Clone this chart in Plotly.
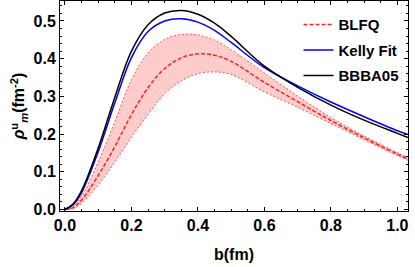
import plotly.graph_objects as go

b = [0.0, 0.025, 0.05, 0.1, 0.15, 0.2, 0.25, 0.3, 0.35, 0.4, 0.45, 0.5, 0.6, 0.7, 0.8, 0.9, 1.0, 1.032]

bbba05 = [0.0, 0.015, 0.05, 0.163, 0.298, 0.42, 0.49, 0.521, 0.528, 0.518, 0.494, 0.459, 0.38, 0.324, 0.277, 0.237, 0.202, 0.191]
kelly = [0.0, 0.013, 0.045, 0.153, 0.283, 0.403, 0.472, 0.5, 0.506, 0.497, 0.475, 0.443, 0.376, 0.328, 0.285, 0.246, 0.209, 0.199]
blfq_mid = [0.0, 0.005, 0.025, 0.09, 0.167, 0.252, 0.323, 0.374, 0.402, 0.413, 0.409, 0.393, 0.337, 0.286, 0.236, 0.19, 0.147, 0.134]
blfq_up = [0.0, 0.008, 0.035, 0.126, 0.233, 0.344, 0.415, 0.451, 0.464, 0.463, 0.449, 0.424, 0.362, 0.301, 0.244, 0.195, 0.151, 0.138]
blfq_lo = [0.0, 0.003, 0.017, 0.065, 0.126, 0.192, 0.252, 0.307, 0.341, 0.36, 0.365, 0.358, 0.312, 0.271, 0.228, 0.185, 0.143, 0.131]

FONT = "Liberation Sans, Arial, sans-serif"

fig = go.Figure()
fig.add_trace(go.Scatter(x=b, y=blfq_lo, mode="lines", line=dict(color="rgba(255,60,60,0.9)", width=1, dash="2px,2px", shape="spline"),
                         showlegend=False, hoverinfo="skip"))
fig.add_trace(go.Scatter(x=b, y=blfq_up, mode="lines", line=dict(color="rgba(255,60,60,0.9)", width=1, dash="2px,2px", shape="spline"),
                         fill="tonexty", fillcolor="rgba(255,0,0,0.2)", showlegend=False, hoverinfo="skip"))
fig.add_trace(go.Scatter(x=b, y=blfq_mid, mode="lines", name="BLFQ", legendgroup="a",
                         line=dict(color="#ff2020", width=1.5, dash="4px,2px", shape="spline")))
fig.add_trace(go.Scatter(x=b, y=kelly, mode="lines", name="Kelly Fit", legendgroup="b",
                         line=dict(color="#0000ff", width=1.5, shape="spline")))
fig.add_trace(go.Scatter(x=b, y=bbba05, mode="lines", name="BBBA05", legendgroup="c",
                         line=dict(color="#000000", width=1.5, shape="spline")))

axis_common = dict(showline=True, linecolor="black", linewidth=1, mirror="allticks", ticks="inside",
                   ticklen=4, tickcolor="black", showgrid=False, zeroline=False,
                   tickfont=dict(family=FONT, size=16, color="black", weight="bold"))

fig.update_xaxes(range=[-0.015, 1.032], tickvals=[0, 0.2, 0.4, 0.6, 0.8, 1.0],
                 ticktext=["0.0", "0.2", "0.4", "0.6", "0.8", "1.0"],
                 minor=dict(dtick=0.05, ticks="inside", ticklen=2, tickcolor="black"),
                 title=dict(text="<b>b(fm)</b>", font=dict(family=FONT, size=16, color="black"), standoff=15),
                 **axis_common)
fig.update_yaxes(range=[-0.004, 0.553], tickvals=[0, 0.1, 0.2, 0.3, 0.4, 0.5],
                 ticktext=["0.0", "0.1", "0.2", "0.3", "0.4", "0.5"],
                 minor=dict(dtick=0.02, ticks="inside", ticklen=2, tickcolor="black"),
                 title=dict(text="<b><i>ρ</i><sup>u</sup><sub><i>m</i></sub>(fm<sup>-2</sup>)</b>",
                            font=dict(family=FONT, size=16, color="black"), standoff=4),
                 **axis_common)

fig.update_layout(width=415, height=267, margin=dict(l=60, r=7, t=1, b=56),
                  plot_bgcolor="white", paper_bgcolor="white",
                  legend=dict(x=0.99, xanchor="right", y=0.966, yanchor="top", traceorder="grouped",
                              tracegroupgap=3, bgcolor="rgba(0,0,0,0)",
                              font=dict(family=FONT, size=15, color="black", weight="bold")))

fig.write_html("out.html", config={"displayModeBar": False},
               post_script="document.body.style.margin='0px';document.body.style.overflow='hidden';")
